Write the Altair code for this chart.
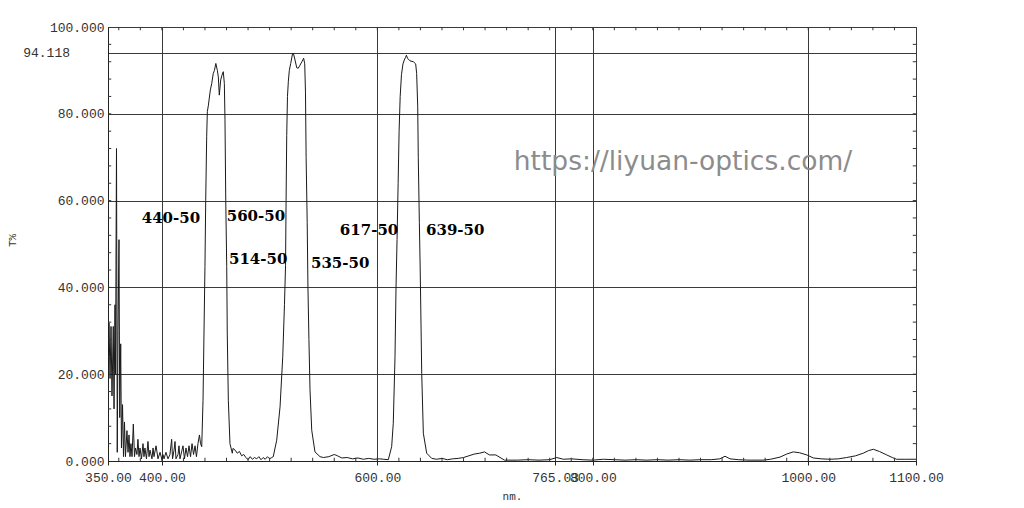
import altair as alt
import pandas as pd

# ---------------- data ----------------
wl_noise = [350.0, 350.9, 351.9, 352.8, 353.7, 354.9, 355.6, 356.5, 357.0, 357.4, 357.9, 358.6, 359.3, 360.2,
            360.9, 361.8, 362.5, 363.5, 364.4, 365.3, 366.2, 367.6, 368.6, 369.5, 370.4, 371.3, 372.3, 373.5,
            374.6, 375.5, 376.9, 377.8, 378.8, 379.7, 381.1, 382.5, 383.4, 384.3, 385.7, 387.1, 388.1, 389.0,
            390.8, 391.8, 392.7, 394.6, 396.4, 398.3, 400.1, 401.0, 402.0, 403.8, 405.7, 407.5, 409.1, 409.9,
            411.3, 412.2, 413.1, 415.0, 415.9, 416.8, 418.7, 419.6, 421.0, 422.4, 423.8, 425.2, 426.6, 428.0,
            429.4, 430.8, 432.1, 433.5, 434.9, 435.9]
t_noise = [18, 31.8, 19, 31, 15, 31, 12, 36, 20, 45, 72, 2, 30, 51, 10, 27, 3, 13, 1, 9, 1, 7, 2, 6, 1, 4, 1,
           8.5, 1, 3, 1.5, 5, 1, 3, 0.5, 4, 1, 3, 0.5, 4.5, 1, 2.5, 0.5, 3, 1, 3.5, 0.5, 2, 0.3, 1.5, 0.5, 2,
           0.5, 1.5, 5, 0.5, 2.5, 4.5, 0.5, 1.5, 3.5, 0.5, 2.5, 3.5, 0.5, 3, 1, 3.5, 1, 4, 1.5, 3.5, 1, 4, 6, 4]

wl_band1 = [437.0, 438.2, 439.1, 440.0, 440.7, 441.6, 442.2, 443.2, 443.8, 445.0, 446.3, 447.7, 448.8, 450.1,
            451.5, 452.4, 453.3, 454.6, 455.8, 457.0, 458.0, 458.6, 459.3, 460.2, 460.7, 461.7, 463.2, 465.4]
t_band1 = [3.3, 14, 29.5, 44.8, 60, 74.7, 80.5, 82, 83.2, 85.5, 87, 89.3, 90, 91.6,
           90, 88.5, 84.3, 87.8, 88.9, 89.7, 87, 78.6, 60, 44.8, 29.5, 14, 4, 1.8]

wl_gap1 = [466.0, 468.0, 470.0, 472.0, 474.0, 476.0, 478.0, 480.0, 482.0, 484.0, 486.0, 488.0, 490.0, 492.0,
           494.0, 496.0, 498.0, 500.0, 502.0]
t_gap1 = [2.9, 2.5, 1.8, 2.2, 1.2, 1.5, 0.8, 0.3, 1, 0.4, 0.8, 0.5, 1, 0.3, 0.8, 0.4, 1, 0.5, 0.8]

wl_band2 = [503.4, 506.6, 509.7, 512.2, 513.8, 514.8, 515.3, 515.9, 516.6, 517.4, 518.3, 519.6, 521.4, 522.2,
            523.6, 525.2, 526.6, 528.2, 530.0, 531.6, 532.6, 533.3, 533.9, 534.9, 535.6, 536.5, 537.5, 539.1,
            542.1, 546.8]
t_band2 = [1, 4.8, 12.5, 24, 36, 45, 60, 75, 84, 87.5, 90, 91.6, 94, 93.8,
           92.4, 90.6, 90.5, 91.2, 92, 92.8, 91.5, 85, 70, 55, 40, 28, 16.4, 7.1,
           2.1, 1]

wl_gap2 = [550.0, 555.0, 560.0, 563.0, 567.0, 572.0, 577.0, 582.0, 587.0, 592.0, 597.0, 602.0, 606.0]
t_gap2 = [0.8, 1, 1.5, 1.2, 0.7, 0.8, 0.5, 0.7, 0.4, 0.6, 0.4, 0.5, 0.4]

wl_band3 = [610.2, 613.3, 614.8, 616.4, 617.3, 618.3, 619.3, 620.2, 621.2, 622.4, 623.8, 625.0, 626.2, 627.0,
            628.0, 630.3, 633.4, 635.6, 636.5, 637.5, 638.0, 639.0, 639.8, 640.3, 641.2, 642.7, 645.8, 650.5]
t_band3 = [0.3, 3.3, 8.7, 24, 39.4, 51, 64, 76, 84, 89, 91.5, 92.4, 93, 93.5,
           92.8, 92.2, 92, 91.5, 89.3, 81.6, 70, 55, 44, 35.5, 20.2, 6.4, 1.8, 0.6]

wl_tail = [655, 660, 665, 670, 675, 680, 685, 690, 695, 699.5, 704, 710, 718, 730, 740, 750, 760, 766.5,
           772.6, 780, 790, 800, 810, 820, 830, 840, 850, 860, 870, 880, 890, 900, 910, 918, 922.7, 927.3,
           935, 945, 958, 965, 973.8, 980, 986, 992, 998.6, 1004.7, 1012, 1020, 1028, 1035.7, 1044, 1051,
           1056, 1060.4, 1066, 1072.8, 1078, 1082, 1090, 1100]
t_tail = [0.4, 0.6, 0.3, 0.5, 0.6, 0.8, 1.2, 1.6, 1.8, 2.1, 1.4, 1.4, 0.2, 0.2, 0.3, 0.2, 0.3, 0.8,
          0.4, 0.5, 0.3, 0.2, 0.4, 0.3, 0.2, 0.3, 0.2, 0.3, 0.2, 0.3, 0.2, 0.3, 0.3, 0.5, 1.1, 0.5,
          0.3, 0.2, 0.2, 0.4, 0.9, 1.6, 2.1, 1.9, 1.4, 0.7, 0.5, 0.4, 0.5, 0.8, 1.2, 1.8,
          2.4, 2.7, 2.2, 1.4, 0.8, 0.4, 0.4, 0.4]

x_tick_values = [350, 400, 600, 765.03, 800, 1000, 1100]
y_tick_values = [0, 20, 40, 60, 80, 94.118, 100]
x_minor = list(range(360, 1100, 20))
y_minor = list(range(4, 100, 4))

label_text = ["440-50", "560-50", "514-50", "535-50", "617-50", "639-50"]
label_wl = [381.3, 460.2, 462.3, 538.4, 565.2, 645.2]
label_t = [55.9, 56.5, 46.5, 45.6, 53.2, 53.2]

watermark = "https://liyuan-optics.com/"
special_y_label = "94.118"

# ---------------- build ----------------
segments = [(wl_noise, t_noise), (wl_band1, t_band1), (wl_gap1, t_gap1), (wl_band2, t_band2),
            (wl_gap2, t_gap2), (wl_band3, t_band3), (wl_tail, t_tail)]
wl, tr = [], []
for a, b in segments:
    assert len(a) == len(b)
    wl += a
    tr += b
spec = pd.DataFrame({"wl": wl, "t": tr, "order": range(len(wl))})

XSCALE = alt.Scale(domain=[350, 1100], nice=False, zero=False)
YSCALE = alt.Scale(domain=[0, 100], nice=False, zero=True)
LABEL_FONT = "Liberation Mono"

x_axis = alt.Axis(values=x_tick_values, format=".2f", title="nm.", grid=True, tickSize=4,
                  labelPadding=6, labelFlush=False, labelOverlap=False, labelBound=False,
                  titleY=29, titleFontSize=11, titleFontWeight="normal", titleFont=LABEL_FONT)
y_axis = alt.Axis(values=y_tick_values, title="T%", grid=True, ticks=False, labelPadding=4,
                  labelFlush=False, labelOverlap=False,
                  labelExpr="datum.value == 94.118 ? '' : format(datum.value, '.3f')",
                  titleX=-96, titleY=213, titleAlign="center", titleBaseline="middle",
                  titleFontSize=11, titleFontWeight="normal", titleFont=LABEL_FONT)

line = alt.Chart(spec).mark_line(color="#1a1a1a", strokeWidth=1, clip=True).encode(
    x=alt.X("wl:Q", scale=XSCALE, axis=x_axis),
    y=alt.Y("t:Q", scale=YSCALE, axis=y_axis),
    order="order:Q",
)

xm = pd.DataFrame({"wl": x_minor})
ym = pd.DataFrame({"t": y_minor})
tick_style = dict(color="#333", strokeWidth=1)
bottom_ticks = alt.Chart(xm).mark_rule(**tick_style).encode(
    x=alt.X("wl:Q", scale=XSCALE), y=alt.datum(0), y2=alt.datum(0.75))
top_ticks = alt.Chart(xm).mark_rule(**tick_style).encode(
    x=alt.X("wl:Q", scale=XSCALE), y=alt.datum(99.25), y2=alt.datum(100))
left_ticks = alt.Chart(ym).mark_rule(**tick_style).encode(
    y=alt.Y("t:Q", scale=YSCALE), x=alt.datum(350), x2=alt.datum(353))
right_ticks = alt.Chart(ym).mark_rule(**tick_style).encode(
    y=alt.Y("t:Q", scale=YSCALE), x=alt.datum(1097), x2=alt.datum(1100))

labels_df = pd.DataFrame({"wl": label_wl, "t": label_t, "txt": label_text})
labels = alt.Chart(labels_df).mark_text(align="left", baseline="middle", font="DejaVu Serif",
                                        fontWeight="bold", fontSize=15, color="black").encode(
    x=alt.X("wl:Q", scale=XSCALE), y=alt.Y("t:Q", scale=YSCALE), text="txt:N")

wm = alt.Chart(pd.DataFrame({"txt": [watermark]})).mark_text(
    align="center", baseline="middle", font="DejaVu Sans", fontSize=26.5, color="#8c8c8c").encode(
    x=alt.datum(883.7), y=alt.datum(68.9), text="txt:N")

special = alt.Chart(pd.DataFrame({"txt": [special_y_label]})).mark_text(
    align="right", baseline="middle", font=LABEL_FONT, fontSize=13, color="#333").encode(
    x=alt.value(-38), y=alt.datum(94.118), text="txt:N")

chart = alt.layer(line, bottom_ticks, top_ticks, left_ticks, right_ticks, labels, wm, special).properties(
    width=808, height=434,
    autosize=alt.AutoSizeParams(type="none"),
    padding={"left": 100, "top": 19, "right": 92, "bottom": 46},
    background="white",
).configure_view(stroke="#333", strokeWidth=1).configure_axis(
    labelFont=LABEL_FONT, labelFontSize=13, labelColor="#333",
    gridColor="#3a3a3a", gridWidth=1, gridOpacity=1,
    domainColor="#222", domainWidth=1, tickColor="#222", titleColor="#333",
)

chart.save("out.html", embed_options={"renderer": "svg", "actions": False})
